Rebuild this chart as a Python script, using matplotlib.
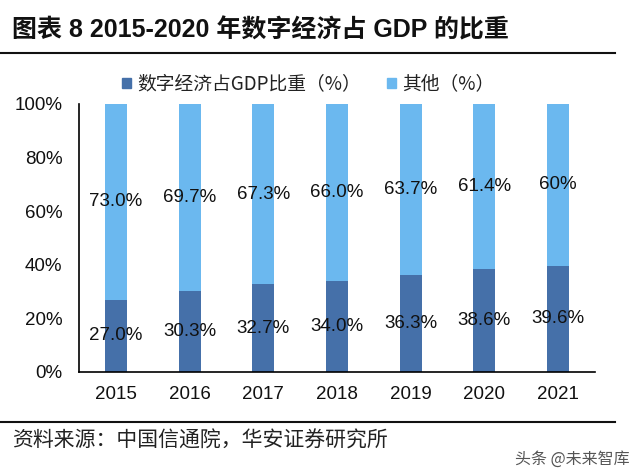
import matplotlib
matplotlib.use("Agg")
import matplotlib.pyplot as plt
from matplotlib.lines import Line2D
from matplotlib.patches import Patch

plt.rcParams['font.family'] = ['Liberation Sans', 'Noto Sans CJK SC', 'DejaVu Sans']

years = ['2015', '2016', '2017', '2018', '2019', '2020', '2021']
digital = [27.0, 30.3, 32.7, 34.0, 36.3, 38.6, 39.6]
other = [73.0, 69.7, 67.3, 66.0, 63.7, 61.4, 60.4]
digital_labels = ['27.0%', '30.3%', '32.7%', '34.0%', '36.3%', '38.6%', '39.6%']
other_labels = ['73.0%', '69.7%', '67.3%', '66.0%', '63.7%', '61.4%', '60%']
yticks = [0, 20, 40, 60, 80, 100]

c_dark = '#4570A9'
c_light = '#6BB8EF'

fig = plt.figure(figsize=(6.4, 4.74), dpi=100)
ax = fig.add_axes([79/640, 1-372/474, (595-79)/640, (372-104)/474])

x = list(range(len(years)))
w = 0.30
ax.bar(x, digital, width=w, color=c_dark, zorder=2)
ax.bar(x, other, width=w, bottom=digital, color=c_light, zorder=2)

for i in x:
    ax.text(i, digital[i]/2, digital_labels[i], ha='center', va='center', fontsize=13.5, color='#111111', zorder=3)
    ax.text(i, digital[i] + other[i]/2, other_labels[i], ha='center', va='center', fontsize=13.5, color='#111111', zorder=3)

ax.set_xlim(-0.5, 6.5)
ax.set_ylim(0, 100)
ax.set_xticks(x)
ax.set_xticklabels(years, fontsize=13.5)
ax.set_yticks(yticks)
ax.set_yticklabels([f'{v}%' for v in yticks], fontsize=13.5)
ax.tick_params(axis='both', length=0, colors='#111111')
ax.tick_params(axis='x', pad=10)
ax.tick_params(axis='y', pad=12)
for s in ['top', 'right']:
    ax.spines[s].set_visible(False)
ax.spines['left'].set_linewidth(1.2)
ax.spines['bottom'].set_linewidth(1.2)

# Title and decorations
fig.text(12/640, 1-30/474, '图表 8 2015-2020 年数字经济占 GDP 的比重', fontsize=18, fontweight='bold',
         ha='left', va='center', color='#111111')
fig.add_artist(Line2D([0, 615/640], [1-53/474, 1-53/474], color='#111111', lw=1.5))
fig.add_artist(Line2D([0, 615/640], [1-422/474, 1-422/474], color='#111111', lw=1.5))

handles = [Patch(color=c_dark), Patch(color=c_light)]
fig.legend(handles, ['数字经济占GDP比重（%）', '其他（%）'], loc='center', bbox_to_anchor=(308/640, 1-84/474),
           ncol=2, frameon=False, handlelength=0.5, handleheight=0.5, handletextpad=0.3,
           columnspacing=1.4, prop={'family': ['Noto Sans CJK SC'], 'size': 13.5}, labelcolor='#222222')

fig.text(12/640, 1-441/474, '资料来源：中国信通院，华安证券研究所', fontsize=15, ha='left', va='center',
         color='#222222', family=['Noto Sans CJK SC'])
fig.text(630/640, 1-459/474, '头条 @未来智库', fontsize=11.5, ha='right', va='center',
         color='#555555', family=['Noto Sans CJK SC'])

fig.savefig('out.png', dpi=100, facecolor='white')
